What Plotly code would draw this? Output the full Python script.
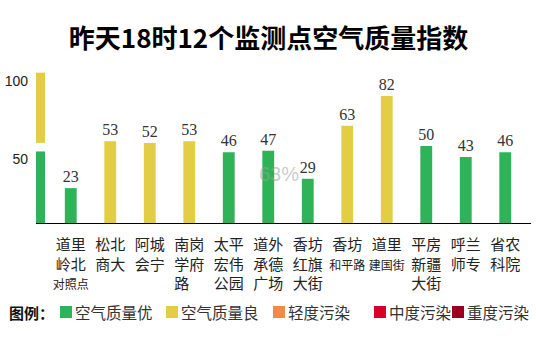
import plotly.graph_objects as go

# ---------------- data ----------------
stations = [
    "道里<br>岭北<br><span style='font-size:12px'>对照点</span>",
    "松北<br>商大",
    "阿城<br>会宁",
    "南岗<br>学府<br>路　",
    "太平<br>宏伟<br>公园",
    "道外<br>承德<br>广场",
    "香坊<br>红旗<br>大街",
    "香坊<br><span style='font-size:12px'>和平路</span>",
    "道里<br><span style='font-size:12px'>建国街</span>",
    "平房<br>新疆<br>大街",
    "呼兰<br>师专",
    "省农<br>科院",
]
aqi = [23, 53, 52, 53, 46, 47, 29, 63, 82, 50, 43, 46]

level_names = ["空气质量优", "空气质量良", "轻度污染", "中度污染", "重度污染"]
level_colors = ["#2eb358", "#e3cd45", "#f08a4b", "#d7002a", "#9a0020"]
level_upper = [50, 100, 150, 200, 300]

y_ticks = [50, 100]
title_text = "昨天18时12个监测点空气质量指数"
watermark = "63%"

# ---------------- layout helpers ----------------
W, H = 536, 351
L, R, T, B = 51, 11, 68, 127
PW, PH = W - L - R, H - T - B


def px2x(px):
    return (px - L) / PW


def py2y(py):
    return (H - B - py) / PH


def level_color(v):
    for up, c in zip(level_upper, level_colors):
        if v <= up:
            return c
    return level_colors[-1]


bar_colors = [level_color(v) for v in aqi]

fig = go.Figure()
fig.add_trace(go.Bar(
    x=list(range(len(stations))),
    y=aqi,
    width=0.3,
    marker=dict(color=bar_colors, line=dict(width=0)),
    text=[str(v) for v in aqi],
    textposition="outside",
    constraintext="none",
    textfont=dict(family="Liberation Serif", size=16, color="#333333"),
    cliponaxis=False,
    showlegend=False,
    hoverinfo="skip",
))

shapes = []
# scale bar on the left (good / moderate ranges)
shapes.append(dict(type="rect", xref="paper", yref="y",
                   x0=px2x(36), x1=px2x(45), y0=0, y1=level_upper[0] - 3.5,
                   fillcolor=level_colors[0], line=dict(width=0), layer="below"))
shapes.append(dict(type="rect", xref="paper", yref="y",
                   x0=px2x(36), x1=px2x(45), y0=level_upper[0] + 2, y1=level_upper[1] - 3,
                   fillcolor=level_colors[1], line=dict(width=0), layer="below"))
# baseline
shapes.append(dict(type="line", xref="paper", yref="y",
                   x0=px2x(36), x1=px2x(531), y0=0, y1=0,
                   line=dict(color="#000000", width=2)))

annotations = []
# watermark
annotations.append(dict(text=watermark, xref="paper", yref="paper",
                        x=px2x(279), y=py2y(187), showarrow=False,
                        font=dict(family="Liberation Sans", size=20, color="rgba(160,160,160,0.55)")))

# legend (manual)
leg_y = 312
annotations.append(dict(text="<b>图例：</b>", xref="paper", yref="paper",
                        x=px2x(7), y=py2y(leg_y), xanchor="left", yanchor="middle",
                        showarrow=False,
                        font=dict(family="Noto Sans CJK SC", size=15, color="#111111")))
sq_x = [60, 166, 273, 374, 452]
for name, col, sx in zip(level_names, level_colors, sq_x):
    shapes.append(dict(type="rect", xref="paper", yref="paper",
                       x0=px2x(sx), x1=px2x(sx + 12), y0=py2y(leg_y - 6), y1=py2y(leg_y + 6),
                       fillcolor=col, line=dict(width=0)))
    annotations.append(dict(text=name, xref="paper", yref="paper",
                            x=px2x(sx + 13), y=py2y(leg_y), xanchor="left", yanchor="middle",
                            showarrow=False,
                            font=dict(family="Noto Sans CJK SC", size=15.5, color="#333333")))

fig.update_layout(
    width=W, height=H,
    margin=dict(l=L, r=R, t=T, b=B, autoexpand=False),
    paper_bgcolor="white", plot_bgcolor="white",
    title=dict(text="<b>" + title_text + "</b>", x=268.5 / W,
               xanchor="center", y=1 - 38.5 / H, yanchor="middle",
               font=dict(family="Noto Sans CJK SC", size=26, color="#000000")),
    xaxis=dict(
        tickmode="array", tickvals=list(range(len(stations))), ticktext=stations,
        range=[-0.5, len(stations) - 0.5],
        showgrid=False, zeroline=False, showline=False, ticks="",
        ticklabelstandoff=10, automargin=False,
        tickfont=dict(family="Noto Sans CJK SC", size=15, color="#222222"),
        fixedrange=True,
    ),
    yaxis=dict(
        range=[0, 100], tickmode="array", tickvals=y_ticks,
        ticktext=[str(v) for v in y_ticks],
        showgrid=False, zeroline=False, showline=False, ticks="",
        ticklabelstandoff=22, ticklabelshift=13, automargin=False,
        tickfont=dict(family="Liberation Sans", size=14, color="#222222"),
        fixedrange=True,
    ),
    shapes=shapes,
    annotations=annotations,
    bargap=0.7,
)

fig.write_html("out.html")
